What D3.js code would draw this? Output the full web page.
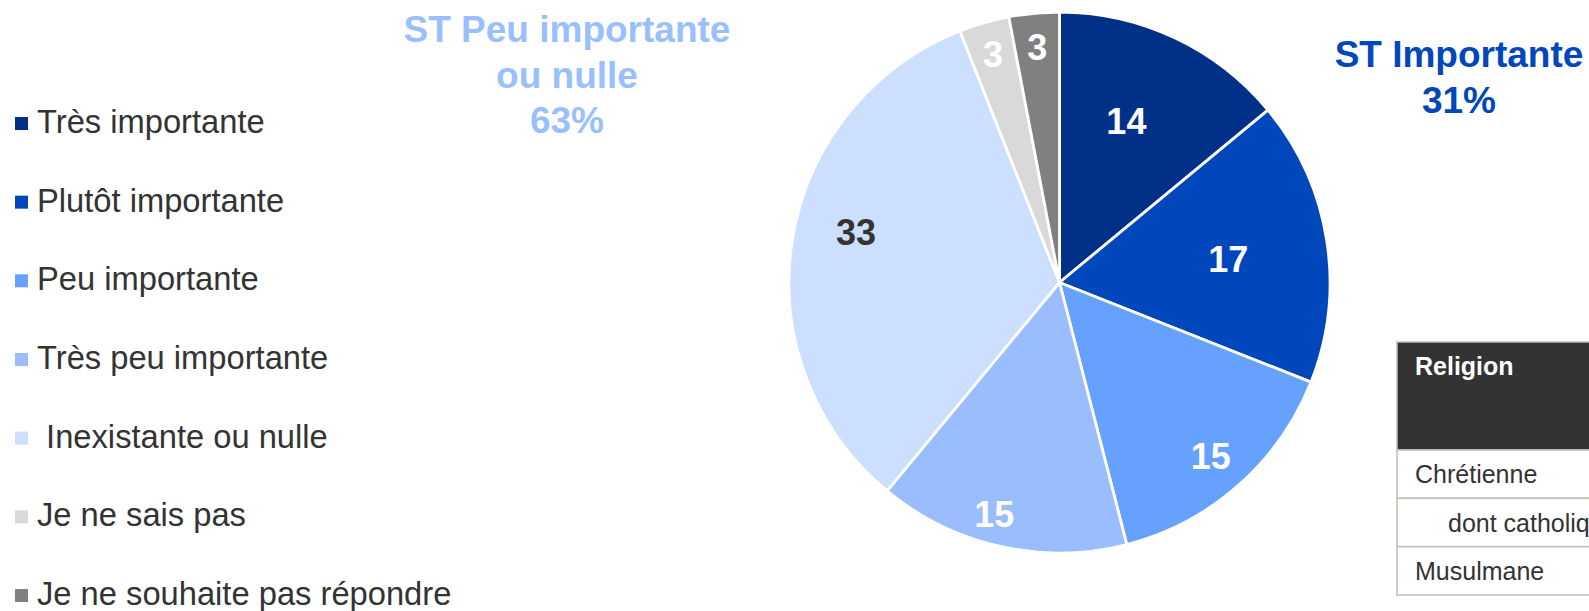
<!DOCTYPE html>
<html>
<head>
<meta charset="utf-8">
<script src="https://cdn.jsdelivr.net/npm/d3@7"></script>
<style>
  body { margin:0; background:#ffffff; }
  svg  { display:block; font-family:"Liberation Sans", Arial, sans-serif; }
</style>
</head>
<body>
<div id="chart_container"></div>
<script>
// Data.
var categories   = ["Très importante", "Plutôt importante", "Peu importante", "Très peu importante", " Inexistante ou nulle", "Je ne sais pas", "Je ne souhaite pas répondre"];
var values       = [14, 17, 15, 15, 33, 3, 3];
var slice_colors = ["#003087", "#0047bb", "#66a1ff", "#99bdff", "#ccdfff", "#d9d9d9", "#808080"];
var label_colors = ["#ffffff", "#ffffff", "#ffffff", "#ffffff", "#333333", "#ffffff", "#ffffff"];
var group_titles = [
  { lines:["ST Peu importante", "ou nulle", "63%"], color:"#99bfff" },
  { lines:["ST Importante", "31%"],                 color:"#0047bb" }
];
var table_header = "Religion";
var table_rows   = ["Chrétienne", "dont catholique", "Musulmane"];
var table_indent = [false, true, false];

// Layout.
var dimension     = { width:1589, height:611 };
var pie_center    = { x:1059.5, y:282.5 };
var pie_radius    = 270.5;
// Excel put each value label at its own place: distance from the centre
// (share of the radius) and a small turn away from the slice middle (degrees).
var label_radius  = [0.646, 0.63, 0.85, 0.89, 0.775, 0.88, 0.875];
var label_turn    = [-2.7, 1, 0.3, 3.1, 4.9, 0, 0];
var title_anchor  = [{ x:567, y:42 }, { x:1459, y:67 }];
var title_leading = 45.5;

var svg = d3.select("#chart_container").append("svg")
  .attr("width" , dimension.width)
  .attr("height", dimension.height);

var scale_color = d3.scaleOrdinal().domain(categories).range(slice_colors);

// Pie.
var pie_layout = d3.pie().sort(null).value(function (d) { return d; }).startAngle(0).endAngle(2*Math.PI);
var arc_main   = d3.arc().innerRadius(0).outerRadius(pie_radius);
var pie_arcs   = pie_layout(values);

var pie_group = svg.append("g")
  .attr("transform", "translate(" + pie_center.x + "," + pie_center.y + ")");

pie_group.selectAll(".pie_slice")
  .data(pie_arcs)
  .enter().append("path")
  .attr ("class"          , "pie_slice")
  .attr ("d"              , arc_main)
  .style("fill"           , function (d, i) { return scale_color(categories[i]); })
  .style("stroke"         , "#ffffff")
  .style("stroke-width"   , 2.8)
  .style("stroke-linejoin", "round");

pie_group.selectAll(".pie_label")
  .data(pie_arcs)
  .enter().append("text")
  .attr ("class"      , "pie_label")
  .attr ("transform"  , function (d, i) {
    var turn = label_turn[i]*Math.PI/180;
    var arc_label = d3.arc().innerRadius(0).outerRadius(2*pie_radius*label_radius[i]);
    var c = arc_label.centroid({ startAngle:d.startAngle + turn, endAngle:d.endAngle + turn });
    return "translate(" + c[0] + "," + c[1] + ")";
  })
  .attr ("dy"         , "0.36em")
  .attr ("text-anchor", "middle")
  .style("font-size"  , "36px")
  .style("font-weight", "bold")
  .style("fill"       , function (d, i) { return label_colors[i]; })
  .text(function (d) { return d.data; });

// Legend.
var scale_legend_y = d3.scalePoint().domain(categories).range([133, 605]);

var legend_row = svg.selectAll(".legend_row")
  .data(categories)
  .enter().append("g")
  .attr("class"    , "legend_row")
  .attr("transform", function (d) { return "translate(0," + scale_legend_y(d) + ")"; });

legend_row.append("rect")
  .attr ("x"     , 15)
  .attr ("y"     , -16)
  .attr ("width" , 13)
  .attr ("height", 13)
  .style("fill"  , function (d) { return scale_color(d); });

legend_row.append("text")
  .attr ("x"          , 37)
  .attr ("y"          , 0)
  .style("font-size"  , "32.7px")
  .style("fill"       , "#333333")
  .style("white-space", "pre")
  .text(function (d) { return d; });

// Group totals.
group_titles.forEach(function (g, i) {
  var title_text = svg.append("text")
    .attr ("text-anchor", "middle")
    .style("font-size"  , "37px")
    .style("font-weight", "bold")
    .style("fill"       , g.color);
  g.lines.forEach(function (line, j) {
    title_text.append("tspan")
      .attr("x", title_anchor[i].x)
      .attr("y", title_anchor[i].y + j*title_leading)
      .text(line);
  });
});

// Table, cut by the right edge of the slide.
var table_left   = 1397;
var table_top    = 342;
var table_border = "#bfbfb4";
var scale_row_y  = d3.scaleBand().domain(table_rows).range([450, 595]);

svg.append("rect")
  .attr ("x"     , table_left)
  .attr ("y"     , table_top)
  .attr ("width" , dimension.width - table_left + 5)
  .attr ("height", 450 - table_top)
  .style("fill"  , "#333333")
  .style("stroke", table_border)
  .style("stroke-width", 1.5);

svg.append("text")
  .attr ("x"          , 1415)
  .attr ("y"          , 375)
  .style("font-size"  , "25px")
  .style("font-weight", "bold")
  .style("fill"       , "#ffffff")
  .text(table_header);

var table_row = svg.selectAll(".table_row")
  .data(table_rows)
  .enter().append("g")
  .attr("class"    , "table_row")
  .attr("transform", function (d) { return "translate(0," + scale_row_y(d) + ")"; });

table_row.append("rect")
  .attr ("x"     , table_left)
  .attr ("y"     , 0)
  .attr ("width" , dimension.width - table_left + 5)
  .attr ("height", scale_row_y.bandwidth())
  .style("fill"  , "#ffffff")
  .style("stroke", table_border)
  .style("stroke-width", 1.5);

table_row.append("text")
  .attr ("x"        , function (d, i) { return table_indent[i] ? 1448 : 1415; })
  .attr ("y"        , scale_row_y.bandwidth() - 15)
  .style("font-size", "25px")
  .style("fill"     , "#333333")
  .text(function (d) { return d; });
</script>
</body>
</html>
